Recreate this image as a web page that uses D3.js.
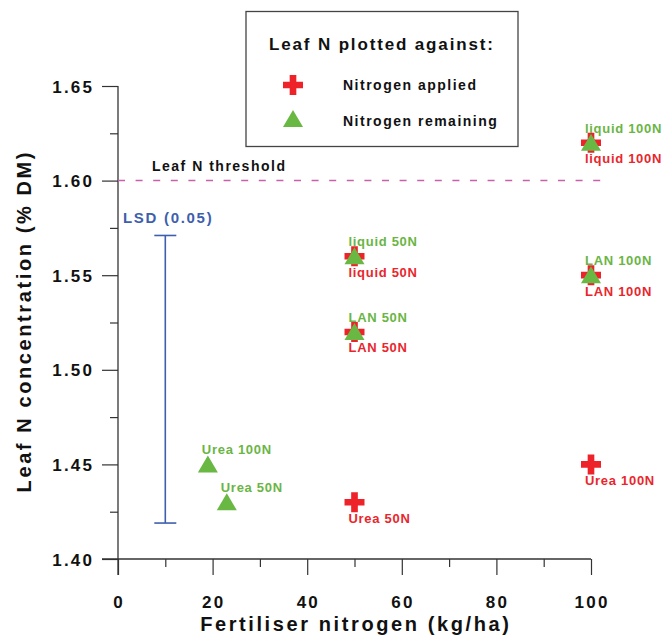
<!DOCTYPE html>
<html>
<head>
<meta charset="utf-8">
<script src="https://cdn.jsdelivr.net/npm/d3@7"></script>
<style>
  html, body { margin: 0; padding: 0; background: #fff; }
  svg { display: block; }
  text { font-family: "Liberation Sans", Arial, Helvetica, sans-serif; font-weight: bold; }
</style>
</head>
<body>
<svg id="chart" width="663" height="637"></svg>
<script>
// Treatment labels and leaf N concentrations (% DM)
const treatments = ["Urea 50N", "Urea 100N", "LAN 50N", "LAN 100N", "liquid 50N", "liquid 100N"];
const leafN      = [1.43, 1.45, 1.52, 1.55, 1.56, 1.62];
// Nitrogen applied (kg/ha) per treatment
const nApplied   = [50, 100, 50, 100, 50, 100];
// Nitrogen remaining (kg/ha) per treatment
const nRemaining = [23, 19, 50, 100, 50, 100];

const xTicks = [0, 20, 40, 60, 80, 100];
const yTicks = [1.40, 1.45, 1.50, 1.55, 1.60, 1.65];
const xMinorTicks = [10, 30, 50, 70, 90];
const yMinorTicks = [1.425, 1.475, 1.525, 1.575, 1.625];

const thresholdValue = 1.60;
const thresholdSpan = [0, 102.5];
const lsdX = 10;
const lsdRange = [1.419, 1.571];

const RED = "#ee2229", GREEN = "#69b843", RED_TXT = "#e9262d", GREEN_TXT = "#6ab545", BLUE = "#3e5fad";

const svg = d3.select("#chart");
const x = d3.scaleLinear().domain([0, 100]).range([118, 591]);
const y = d3.scaleLinear().domain([1.40, 1.65]).range([559, 86]);

// text helper: Chrome adds trailing letter-spacing, so shift anchored text to compensate
function label(g, str, px, py, size, spacing, anchor, fill) {
  let shift = 0;
  if (anchor === "middle") shift = spacing / 2;
  if (anchor === "end") shift = spacing;
  return g.append("text")
    .attr("x", px + shift).attr("y", py)
    .attr("font-size", size + "px")
    .attr("letter-spacing", spacing + "px")
    .attr("text-anchor", anchor)
    .attr("fill", fill)
    .text(str);
}

const axisColor = "#333";

// Y axis
const yAxis = svg.append("g").attr("transform", `translate(${x(0)},0)`)
  .call(d3.axisLeft(y).tickValues(yTicks).tickSize(16).tickFormat(""));
yAxis.select(".domain").remove();
yAxis.selectAll("line").attr("stroke", axisColor).attr("stroke-width", 1.2);
const yMinor = svg.append("g").attr("transform", `translate(${x(0)},0)`)
  .call(d3.axisLeft(y).tickValues(yMinorTicks).tickSize(8).tickFormat(""));
yMinor.select(".domain").remove();
yMinor.selectAll("line").attr("stroke", axisColor).attr("stroke-width", 1.2);
svg.append("line").attr("x1", x(0)).attr("x2", x(0)).attr("y1", y(1.65)).attr("y2", y(1.40) + 16)
  .attr("stroke", axisColor).attr("stroke-width", 1.3);

// X axis
const xAxis = svg.append("g").attr("transform", `translate(0,${y(1.40)})`)
  .call(d3.axisBottom(x).tickValues(xTicks).tickSize(16).tickFormat(""));
xAxis.select(".domain").remove();
xAxis.selectAll("line").attr("stroke", axisColor).attr("stroke-width", 1.2);
const xMinor = svg.append("g").attr("transform", `translate(0,${y(1.40)})`)
  .call(d3.axisBottom(x).tickValues(xMinorTicks).tickSize(8).tickFormat(""));
xMinor.select(".domain").remove();
xMinor.selectAll("line").attr("stroke", axisColor).attr("stroke-width", 1.2);
svg.append("line").attr("x1", x(0) - 16).attr("x2", x(100)).attr("y1", y(1.40)).attr("y2", y(1.40))
  .attr("stroke", axisColor).attr("stroke-width", 1.3);

// Tick labels
const tickG = svg.append("g");
yTicks.forEach(v => label(tickG, d3.format(".2f")(v), 92, y(v) + 6.5, 17, 2.2, "end", "#111"));
xTicks.forEach(v => label(tickG, String(v), x(v), 608, 17, 2.2, "middle", "#111"));

// Axis titles
label(svg, "Fertiliser nitrogen (kg/ha)", (x(0) + x(100)) / 2, 631, 20, 2.6, "middle", "#111");
const yt = svg.append("g").attr("transform", `translate(31,${(y(1.40) + y(1.65)) / 2}) rotate(-90)`);
label(yt, "Leaf N concentration (% DM)", 0, 0, 20, 2.6, "middle", "#111");

// Threshold line
svg.append("line")
  .attr("x1", x(thresholdSpan[0])).attr("x2", x(thresholdSpan[1]))
  .attr("y1", y(thresholdValue)).attr("y2", y(thresholdValue))
  .attr("stroke", "#c862a8").attr("stroke-width", 1.5).attr("stroke-dasharray", "7,10.6");
label(svg, "Leaf N threshold", 152, y(thresholdValue) - 10, 14, 1.5, "start", "#111");

// LSD bar
const lsd = svg.append("g").attr("stroke", BLUE).attr("stroke-width", 1.6);
lsd.append("line").attr("x1", x(lsdX)).attr("x2", x(lsdX)).attr("y1", y(lsdRange[0])).attr("y2", y(lsdRange[1]));
lsdRange.forEach(v => lsd.append("line").attr("x1", x(lsdX) - 11).attr("x2", x(lsdX) + 11).attr("y1", y(v)).attr("y2", y(v)));
label(svg, "LSD (0.05)", 123, 223, 15, 1.7, "start", BLUE);

// Marker shapes
const crossPath = d3.symbol().type(d3.symbolCross).size(222)();
const triPath = d3.line()([[0, -9], [10, 8], [-10, 8]]) + "Z";

const pts = treatments.map((t, i) => ({ t, leaf: leafN[i], app: nApplied[i], rem: nRemaining[i] }));

// Nitrogen applied (crosses) with labels below
svg.append("g").selectAll("path").data(pts).join("path")
  .attr("d", crossPath).attr("fill", RED)
  .attr("transform", d => `translate(${x(d.app)},${y(d.leaf)})`);
const redLab = svg.append("g");
pts.forEach(d => label(redLab, d.t, x(d.app) - 6, y(d.leaf) + 20.5, 13, 0.7, "start", RED_TXT));

// Nitrogen remaining (triangles) with labels above
svg.append("g").selectAll("path").data(pts).join("path")
  .attr("d", triPath).attr("fill", GREEN)
  .attr("transform", d => `translate(${x(d.rem)},${y(d.leaf)})`);
const greenLab = svg.append("g");
pts.forEach(d => label(greenLab, d.t, x(d.rem) - 6, y(d.leaf) - 10, 13, 0.7, "start", GREEN_TXT));

// Legend
const lg = svg.append("g");
lg.append("rect").attr("x", 246).attr("y", 11.5).attr("width", 272).attr("height", 135)
  .attr("fill", "#fff").attr("stroke", "#444").attr("stroke-width", 1.3);
label(lg, "Leaf N plotted against:", 269, 50, 17, 1.85, "start", "#111");
lg.append("path").attr("d", crossPath).attr("fill", RED).attr("transform", "translate(293,85)");
label(lg, "Nitrogen applied", 343, 90, 14, 1.5, "start", "#111");
lg.append("path").attr("d", triPath).attr("fill", GREEN).attr("transform", "translate(293,119)");
label(lg, "Nitrogen remaining", 343, 125.5, 14, 1.5, "start", "#111");
</script>
</body>
</html>
